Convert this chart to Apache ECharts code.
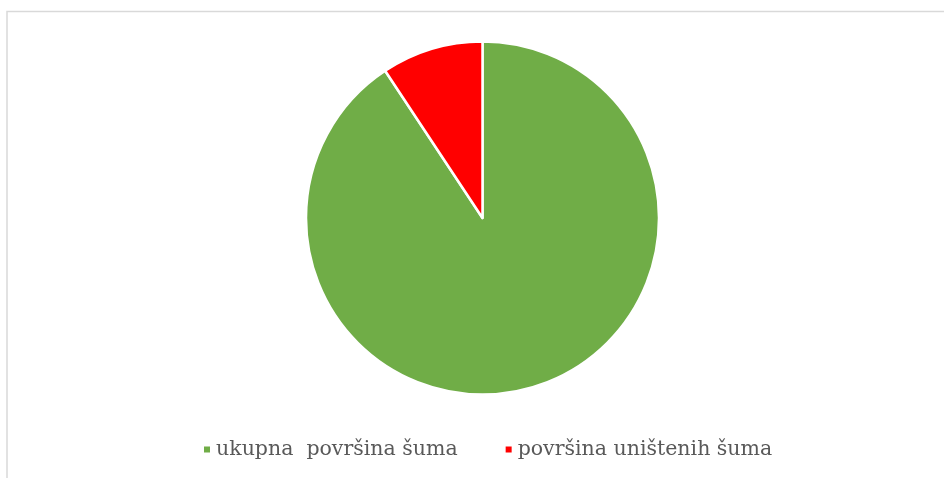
<!DOCTYPE html>
<html>
<head>
<meta charset="utf-8">
<script src="https://cdn.jsdelivr.net/npm/echarts@6/dist/echarts.min.js"></script>
<style>html,body{margin:0;padding:0;background:#fff;}#c{width:944px;height:478px;}</style>
</head>
<body>
<div id="c"></div>
<script>
const categories = ['ukupna  površina šuma', 'površina uništenih šuma'];
const values = [90.7, 9.3];
const colors = ['#70ad47', '#ff0000'];

const chart = echarts.init(document.getElementById('c'), null, {renderer: 'canvas'});
chart.setOption({
  animation: false,
  backgroundColor: '#ffffff',
  color: colors,
  graphic: [{
    type: 'rect',
    shape: {x: 7, y: 11.5, width: 1200, height: 1000},
    style: {fill: 'none', stroke: '#d9d9d9', lineWidth: 1.5},
    silent: true,
    z: -1
  }],
  legend: {
    left: 197,
    top: 434,
    icon: 'rect',
    itemWidth: 8,
    itemHeight: 8,
    itemGap: 46,
    textStyle: {fontFamily: 'DejaVu Serif', fontSize: 20.5, color: '#595959'},
    data: categories
  },
  series: [{
    type: 'pie',
    center: [482.5, 218],
    radius: 176.5,
    startAngle: 90,
    clockwise: true,
    label: {show: false},
    labelLine: {show: false},
    itemStyle: {borderColor: '#ffffff', borderWidth: 2.5},
    emphasis: {disabled: true},
    data: categories.map((n, i) => ({name: n, value: values[i]}))
  }]
});
</script>
</body>
</html>
